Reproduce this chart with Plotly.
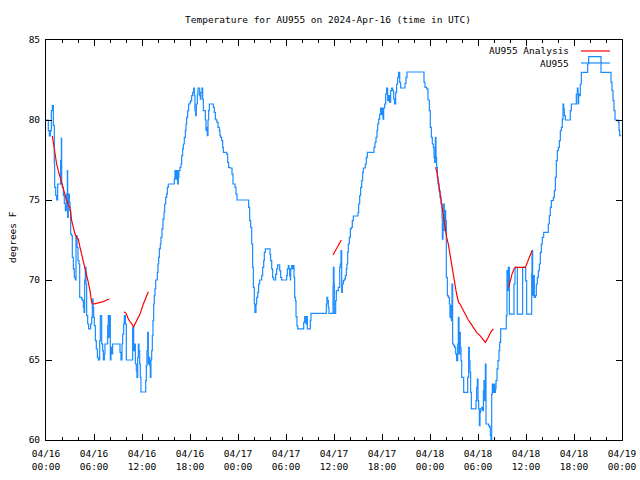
import plotly.graph_objects as go

# ---------------- data (hours since 2024-04-16 00:00 UTC, degrees F) -------------
obs_hours = [
    0.0, 0.29, 0.42, 0.54, 0.67, 0.79, 0.92, 1.04, 1.08, 1.21, 1.33, 1.46, 1.83, 1.92, 1.96,
    2.04, 2.17, 2.29, 2.42, 2.54, 2.67, 2.71, 2.79, 2.92, 3.0, 3.08, 3.21, 3.29, 3.42, 3.54,
    3.67, 3.75, 3.88, 4.0, 4.12, 4.21, 4.46, 4.58, 4.67, 4.75, 4.83, 4.92, 5.0, 5.08, 5.21,
    5.33, 5.58, 5.71, 5.79, 5.88, 5.96, 6.04, 6.17, 6.29, 6.42, 6.54, 6.71, 6.79, 6.96, 7.08,
    7.17, 7.29, 7.37, 7.71, 7.79, 7.87, 7.96, 8.04, 8.12, 8.21, 8.33, 9.25, 9.37, 9.5, 9.58,
    9.71, 9.79, 9.92, 10.04, 10.83, 10.96, 11.08, 11.17, 11.29, 11.37, 11.46, 11.54, 11.62,
    11.71, 11.79, 11.87, 12.46, 12.54, 12.62, 12.71, 12.79, 12.87, 12.96, 13.04, 13.12, 13.21,
    13.29, 13.37, 13.46, 13.54, 13.62, 13.71, 13.92, 14.0, 14.08, 14.17, 14.29, 14.37, 14.5,
    14.62, 14.75, 14.83, 14.96, 15.08, 15.17, 15.29, 16.04, 16.12, 16.25, 16.33, 16.46, 16.54,
    16.62, 16.75, 16.87, 16.96, 17.08, 17.17, 17.29, 17.42, 17.5, 17.58, 17.71, 17.83, 18.0,
    18.08, 18.21, 18.33, 18.46, 18.54, 18.62, 18.71, 18.79, 18.92, 19.0, 19.21, 19.29, 19.37,
    19.5, 19.58, 19.67, 19.92, 20.0, 20.08, 20.17, 20.25, 20.33, 20.42, 20.92, 21.04, 21.17,
    21.25, 21.37, 21.5, 21.67, 21.75, 21.83, 21.96, 22.08, 22.17, 22.58, 22.71, 22.83, 23.0,
    23.25, 23.375, 23.625, 23.75, 23.875, 25.33, 25.46, 25.58, 25.71, 25.83, 25.92, 26.04,
    26.12, 26.25, 26.33, 26.46, 26.58, 26.71, 26.96, 27.08, 27.21, 27.29, 27.42, 28.0, 28.08,
    28.21, 28.33, 28.46, 28.71, 28.83, 28.96, 29.21, 29.33, 29.46, 30.08, 30.17, 30.29, 30.37,
    30.46, 30.54, 30.58, 30.71, 30.83, 30.92, 31.0, 31.08, 31.17, 31.25, 31.37, 31.46, 32.21,
    32.33, 32.42, 32.5, 32.58, 32.67, 33.04, 33.12, 35.04, 35.12, 35.21, 35.29, 35.37, 35.875,
    35.92, 36.0, 36.04, 36.21, 36.29, 36.54, 36.71, 36.79, 36.875, 36.96, 37.04, 37.17, 37.29,
    37.42, 37.54, 37.625, 37.71, 37.79, 37.92, 38.04, 38.17, 38.29, 38.42, 39.0, 39.08, 39.21,
    39.33, 39.46, 39.58, 39.67, 39.92, 40.04, 40.17, 41.0, 41.125, 41.25, 41.375, 41.46, 41.58,
    41.71, 41.83, 41.96, 42.04, 42.125, 42.21, 42.33, 42.46, 42.58, 42.71, 42.83, 42.96, 43.08,
    43.21, 43.33, 43.46, 43.58, 43.71, 43.83, 43.96, 44.08, 44.21, 44.33, 44.875, 45.0, 45.125,
    47.25, 47.375, 47.58, 47.75, 47.92, 48.04, 48.17, 48.29, 48.42, 48.5, 48.58, 48.67, 48.75,
    48.83, 48.92, 49.0, 49.125, 49.25, 49.375, 49.5, 49.54, 49.625, 49.71, 49.79, 49.875,
    49.96, 50.04, 50.17, 50.29, 50.42, 50.5, 50.58, 50.67, 50.75, 50.83, 50.96, 51.08, 51.21,
    51.33, 51.46, 51.54, 51.625, 51.71, 51.79, 51.875, 51.96, 52.21, 52.71, 52.83, 52.92, 53.0,
    53.08, 53.17, 53.75, 53.83, 53.92, 54.0, 54.08, 54.17, 54.25, 54.33, 54.46, 54.58, 54.67,
    54.75, 54.83, 54.92, 55.0, 55.33, 55.46, 55.54, 55.625, 55.71, 55.79, 55.92, 56.0, 56.08,
    56.17, 56.25, 56.375, 56.5, 56.625, 56.71, 56.83, 57.54, 57.625, 57.71, 57.79, 57.92, 58.5,
    58.625, 58.92, 59.58, 59.96, 60.08, 60.71, 60.75, 60.83, 60.96, 61.04, 61.17, 61.29, 61.42,
    61.54, 61.67, 61.79, 61.92, 62.04, 62.21, 62.79, 62.92, 63.04, 63.17, 63.42, 63.54, 63.67,
    63.79, 63.92, 64.04, 64.17, 64.29, 64.42, 64.54, 64.625, 64.71, 64.79, 64.92, 65.54, 65.67,
    66.29, 66.42, 66.5, 66.58, 66.67, 66.79, 66.92, 67.71, 67.83, 69.375, 70.625, 70.75, 70.875,
    71.0, 71.125, 71.54, 71.625, 71.71, 71.9,
]
obs_temps = [
    80.0, 79.33, 79.0, 79.33, 80.58, 80.9, 79.67, 77.25, 75.79, 75.29, 75.0, 76.0, 77.46, 78.87, 76.0,
    75.79, 75.29, 74.79, 74.33, 75.37, 76.83, 73.92, 75.37, 74.85, 74.33, 72.87, 72.77, 71.42, 70.69, 70.17,
    70.0, 72.77, 72.04, 71.21, 71.0, 68.92, 68.81, 68.71, 68.29, 67.98, 70.0, 70.79, 69.75, 67.77, 67.25,
    66.94, 67.25, 67.67, 68.81, 68.29, 67.67, 67.15, 66.21, 65.69, 65.17, 65.0, 66.21, 67.77, 66.0, 65.58,
    65.0, 65.38, 66.0, 67.15, 67.77, 66.42, 67.77, 65.0, 65.79, 65.38, 66.0, 65.48, 65.0, 66.0, 66.62,
    67.25, 67.77, 67.25, 65.0, 67.04, 65.58, 66.0, 64.75, 64.33, 63.92, 65.17, 66.0, 65.58,
    64.75, 63.92, 63.0, 63.71, 64.65, 65.58, 66.73, 64.75, 65.17, 64.65, 63.92, 65.0, 65.58,
    66.52, 67.46, 68.5, 69.02, 69.44, 70.0, 70.48, 71.0, 71.42, 71.94, 72.25, 72.67, 73.19,
    73.81, 74.23, 74.75, 75.17, 75.37, 75.79, 76.0, 76.31, 76.83, 76.31, 76.83, 76.0, 76.42,
    76.83, 77.04, 77.25, 77.77, 78.19, 78.5, 78.92, 79.33, 79.75, 80.17, 80.58, 81.0, 81.1,
    81.21, 81.52, 81.73, 82.0, 81.52, 80.58, 80.27, 81.0, 81.62, 82.0, 81.52, 81.31, 81.73,
    82.0, 81.31, 80.58, 80.0, 79.33, 79.54, 79.02, 80.0, 80.58, 81.0, 80.79, 80.48, 80.06,
    80.0, 79.85, 79.54, 79.33, 79.02, 78.92, 78.71, 78.29, 77.98, 77.87, 77.35, 77.04, 77.0,
    76.62, 76.0, 75.79, 75.37, 75.0, 74.54, 73.71, 73.29, 72.25, 70.79, 69.54, 68.5,
    67.98, 68.5, 68.92, 69.23, 69.75, 70.0, 70.27, 70.79, 71.21, 71.73, 71.94, 71.62, 71.21,
    70.69, 70.17, 70.0, 70.37, 70.69, 70.94, 70.58, 70.17, 70.0, 70.27, 70.69, 70.9, 70.69,
    70.27, 70.0, 70.69, 70.9, 70.69, 70.9, 70.17, 68.92, 68.71, 67.71, 67.15, 66.94, 67.35,
    67.71, 67.46, 67.25, 67.71, 66.94, 67.46, 67.92, 68.5, 68.92, 68.71, 68.29, 67.92, 69.54,
    70.79, 69.75, 67.92, 68.71, 69.33, 69.54, 70.79, 71.0, 71.83, 69.23, 69.75, 69.96, 70.06,
    70.27, 70.69, 71.0, 71.73, 72.25, 72.67, 73.19, 73.29, 73.71, 74.0, 74.23, 74.75, 75.27,
    75.79, 76.21, 76.73, 77.0, 77.25, 77.67, 77.98, 78.29, 78.6, 78.92, 79.33, 79.75, 80.06,
    80.37, 80.75, 80.33, 80.75, 80.06, 80.75, 81.0, 81.62, 82.0, 81.21, 81.52, 81.1, 81.83,
    82.0, 81.83, 81.31, 81.0, 81.73, 82.25, 82.67, 82.98, 82.35, 82.0, 82.29, 82.67, 83.0,
    82.35, 82.04, 81.94, 81.25, 80.58, 79.54, 78.92, 78.5, 78.29, 77.67, 77.35, 78.92, 77.67,
    77.04, 76.42, 76.0, 75.58, 75.17, 74.75, 73.92, 72.56, 73.5, 74.75, 73.08, 74.33,
    73.71, 70.17, 69.02, 68.92, 68.5, 67.67, 68.4, 67.46, 69.75, 66.0, 65.9, 65.79, 65.38,
    64.96, 66.0, 67.67, 65.38, 66.73, 65.79, 64.96, 63.92, 62.98, 63.92, 65.79, 64.96, 64.23,
    62.98, 61.94, 62.46, 63.29, 63.81, 62.46, 61.94, 60.9, 61.73, 61.94, 62.04, 61.83, 63.08,
    63.71, 62.46, 64.75, 61.0, 60.9, 60.79, 60.27, 60.0, 62.87, 63.5, 62.98, 63.5, 62.98,
    63.19, 63.71, 64.44, 64.96, 65.58, 66.1, 66.94, 67.77, 70.58, 69.33, 70.79, 67.87, 69.75,
    70.79, 67.87, 70.79, 69.96, 67.87, 70.37, 71.83, 69.02, 70.27, 68.92, 69.02, 69.75, 70.17,
    70.58, 71.0, 71.73, 72.25, 72.67, 72.98, 73.5, 74.02, 74.54, 74.96, 75.17, 75.58, 76.42,
    77.46, 78.08, 78.29, 78.71, 79.33, 79.54, 80.06, 81.0, 80.69, 80.27, 80.0, 80.58, 81.0,
    81.62, 82.0, 81.0, 81.62, 81.52, 82.25, 82.98, 83.5, 83.96, 82.98, 82.35, 81.83, 81.21,
    80.58, 80.0, 79.85, 79.33, 79.02, 79.02,
]

ana1_hours = [0.79, 0.92, 1.125, 1.33, 1.54, 1.75, 1.96, 2.17, 2.375, 2.58, 2.79, 3.0, 3.21, 3.42,
              3.625, 3.83, 4.04, 4.25, 4.46, 4.67, 4.875, 5.08, 5.29, 5.5, 5.71, 5.92, 6.33, 6.75,
              7.17, 7.58, 7.92]
ana1_temps = [79.0, 78.5, 77.87, 77.25, 76.83, 76.42, 76.0, 75.58, 75.27, 74.96, 74.75, 74.54, 73.71,
              73.29, 72.87, 72.67, 72.56, 72.04, 71.62, 71.21, 70.79, 70.37, 69.85, 69.33, 68.6, 68.5,
              68.54, 68.6, 68.65, 68.75, 68.81]
ana2_hours = [9.75, 10.0, 10.29, 10.71, 10.96, 11.33, 11.75, 12.17, 12.5, 12.79]
ana2_temps = [68.02, 67.92, 67.56, 67.25, 67.08, 67.46, 67.87, 68.5, 68.92, 69.27]
ana3_hours = [35.875, 36.4, 36.92]
ana3_temps = [71.56, 72.03, 72.5]
ana4_hours = [48.67, 48.83, 48.96, 49.08, 49.25, 49.375, 49.5, 49.67, 49.875, 50.08, 50.29, 50.42,
              50.58, 50.75, 50.92, 51.08, 51.25, 51.42, 51.58, 51.75, 51.96, 52.17, 52.375, 52.58,
              52.79, 53.0, 53.42, 53.83, 54.25, 54.67, 54.92, 55.29, 55.58, 55.92]
ana4_temps = [77.04, 76.83, 76.42, 76.0, 75.37, 74.96, 74.54, 73.92, 73.29, 72.67, 72.25, 71.83,
              71.21, 70.79, 70.17, 69.75, 69.33, 68.92, 68.6, 68.5, 68.29, 68.08, 67.87, 67.67,
              67.5, 67.35, 67.04, 66.73, 66.52, 66.25, 66.1, 66.42, 66.73, 66.94]
ana5_hours = [57.83, 58.0, 58.25, 58.5, 58.67, 59.92, 60.08, 60.29, 60.5, 60.75]
ana5_temps = [69.54, 69.96, 70.37, 70.69, 70.79, 70.79, 71.0, 71.21, 71.5, 71.83]

x_tick_vals = [0, 6, 12, 18, 24, 30, 36, 42, 48, 54, 60, 66, 72]
x_tick_labels = ["04/16<br>00:00", "04/16<br>06:00", "04/16<br>12:00", "04/16<br>18:00",
                 "04/17<br>00:00", "04/17<br>06:00", "04/17<br>12:00", "04/17<br>18:00",
                 "04/18<br>00:00", "04/18<br>06:00", "04/18<br>12:00", "04/18<br>18:00",
                 "04/19<br>00:00"]
y_tick_vals = [60, 65, 70, 75, 80, 85]

title_text = "Temperature for AU955 on 2024-Apr-16 (time in UTC)"
y_title = "degrees F"
legend_names = ["AU955 Analysis", "AU955"]

RED = "#ff0000"
BLUE = "#1a8cff"
FONT = "DejaVu Sans Mono"

# ---------------- build figure ----------------
ana_x, ana_y = [], []
for hs, ts in [(ana1_hours, ana1_temps), (ana2_hours, ana2_temps), (ana3_hours, ana3_temps),
               (ana4_hours, ana4_temps), (ana5_hours, ana5_temps)]:
    ana_x += hs + [None]
    ana_y += ts + [None]

fig = go.Figure()
fig.add_trace(go.Scatter(x=obs_hours, y=obs_temps, mode="lines", name=legend_names[1],
                         line=dict(color=BLUE, width=1.2, shape="hv"), showlegend=False))
fig.add_trace(go.Scatter(x=ana_x, y=ana_y, mode="lines", name=legend_names[0],
                         line=dict(color=RED, width=1.2), connectgaps=False, showlegend=False))

# plot area in pixels: x 46..622, y 40..440
L, R, T, B = 46, 622, 40, 440
W, H = R - L, B - T


def px(x):
    return (x - L) / W


def py(y):
    return (B - y) / H


axis_common = dict(showline=True, linecolor="black", linewidth=1, mirror="allticks",
                   ticks="inside", ticklen=6, tickcolor="black", tickwidth=1,
                   showgrid=False, zeroline=False,
                   tickfont=dict(family=FONT, size=9.5, color="black"))

fig.update_xaxes(range=[0, 72], tickmode="array", tickvals=x_tick_vals, ticktext=x_tick_labels,
                 ticklabelstandoff=5,
                 minor=dict(ticks="inside", ticklen=3, dtick=2, tick0=0, tickcolor="black", showgrid=False),
                 **axis_common)
fig.update_yaxes(range=[60, 85], tickmode="array", tickvals=y_tick_vals, ticklabelstandoff=3,
                 **axis_common)

fig.update_layout(
    width=640, height=480, autosize=False,
    margin=dict(l=L, r=640 - R, t=T, b=480 - B, autoexpand=False),
    paper_bgcolor="white", plot_bgcolor="white",
    font=dict(family=FONT, size=9.5, color="black"),
    title=dict(text=title_text, x=328 / 640, xanchor="center", y=1 - 20 / 480, yanchor="middle",
               yref="container", xref="container", font=dict(family=FONT, size=9.5, color="black")),
)

# y-axis title
fig.add_annotation(text=y_title, textangle=-90, xref="paper", yref="paper",
                   x=px(12), y=py(237), showarrow=False, xanchor="center", yanchor="middle",
                   font=dict(family=FONT, size=9.5, color="black"))

# legend (gnuplot style: text on left, sample line on right)
fig.add_annotation(text=legend_names[0], xref="paper", yref="paper", x=px(571), y=py(51),
                   showarrow=False, xanchor="right", yanchor="middle",
                   font=dict(family=FONT, size=9.5, color="black"))
fig.add_annotation(text=legend_names[1], xref="paper", yref="paper", x=px(571), y=py(63),
                   showarrow=False, xanchor="right", yanchor="middle",
                   font=dict(family=FONT, size=9.5, color="black"))
fig.add_shape(type="line", xref="paper", yref="paper", x0=px(581), x1=px(610), y0=py(51), y1=py(51),
              line=dict(color=RED, width=1.2))
fig.add_shape(type="line", xref="paper", yref="paper", x0=px(581), x1=px(610), y0=py(63), y1=py(63),
              line=dict(color=BLUE, width=1.2))

fig.write_html("out.html", config={"displayModeBar": False},
               post_script="document.body.style.margin='0';")
